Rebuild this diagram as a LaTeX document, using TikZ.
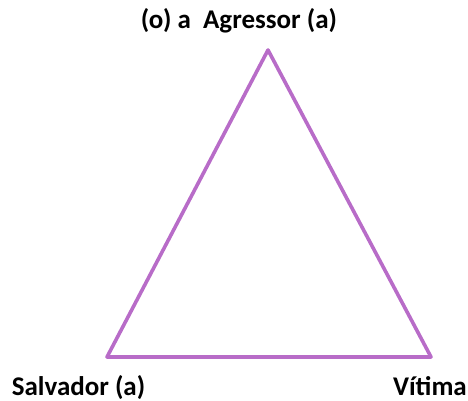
\documentclass[tikz,border=0pt]{standalone}
\usepackage{fontspec}
\setmainfont{Carlito}
\usepackage{tikz}
\usetikzlibrary{positioning}
\definecolor{linec}{HTML}{B86CC8}
\tikzset{
  side/.style={line width=3.6pt,linec,line join=round,line cap=round},
  lbl/.style={font=\fontsize{27}{30}\selectfont\bfseries,inner sep=0pt,anchor=base}
}

\begin{document}
\begin{tikzpicture}[x=1pt,y=-1pt]
\useasboundingbox (0,0) rectangle (468,401);
\coordinate (ag) at (268,50);
\coordinate (sv) at (107,357);
\coordinate (vt) at (431,357);
\draw[side] (ag) -- (vt) -- (sv) -- cycle;
\node[lbl] (tag) at (239,29) {(o) a\ \ Agressor (a)};
\node[lbl] (tsv) at (78.5,395) {Salvador (a)};
\node[lbl,anchor=base east] (tvt) at (467,395) {Vítima};
\end{tikzpicture}
\end{document}
